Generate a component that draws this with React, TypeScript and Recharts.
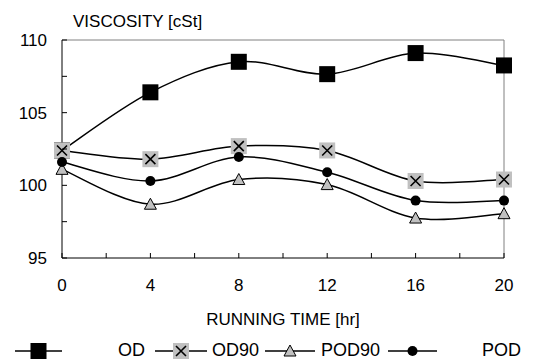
import { LineChart, Line, XAxis, YAxis, ReferenceLine, Label } from "recharts";

const hours = [0, 4, 8, 12, 16, 20];
const od = [102.4, 106.4, 108.5, 107.65, 109.1, 108.25];
const od90 = [102.4, 101.8, 102.7, 102.4, 100.3, 100.4];
const pod90 = [101.1, 98.7, 100.4, 100.05, 97.75, 98.05];
const pod = [101.6, 100.3, 101.95, 100.9, 98.95, 98.95];

const yTicks = [95, 97.5, 100, 102.5, 105, 107.5, 110];
const xTicks = [0, 2, 4, 6, 8, 10, 12, 14, 16, 18, 20];
const legendNames = ["OD", "OD90", "POD90", "POD"];

const FONT = "'Liberation Sans', Arial, sans-serif";

const data = hours.map((h, i) => ({
  h,
  od: od[i],
  od90: od90[i],
  pod90: pod90[i],
  pod: pod[i],
}));

// Excel-like smoothed line (cardinal spline, tension 1/6)
function smoothCurve(context: any) {
  let pts: number[][] = [];
  return {
    areaStart() {},
    areaEnd() {},
    lineStart() {
      pts = [];
    },
    point(x: number, y: number) {
      pts.push([+x, +y]);
    },
    lineEnd() {
      if (!pts.length) return;
      context.moveTo(pts[0][0], pts[0][1]);
      for (let i = 0; i < pts.length - 1; i++) {
        const p0 = pts[i - 1] || pts[i];
        const p1 = pts[i];
        const p2 = pts[i + 1];
        const p3 = pts[i + 2] || p2;
        context.bezierCurveTo(
          p1[0] + (p2[0] - p0[0]) / 6,
          p1[1] + (p2[1] - p0[1]) / 6,
          p2[0] - (p3[0] - p1[0]) / 6,
          p2[1] - (p3[1] - p1[1]) / 6,
          p2[0],
          p2[1]
        );
      }
    },
  };
}

const Square = ({ cx, cy }: any) => (
  <rect x={cx - 8} y={cy - 8} width={16} height={16} fill="#000" />
);
const CrossBox = ({ cx, cy }: any) => (
  <g>
    <rect x={cx - 8} y={cy - 8} width={16} height={16} fill="#c0c0c0" />
    <path
      d={`M${cx - 5},${cy - 5}L${cx + 5},${cy + 5}M${cx + 5},${cy - 5}L${cx - 5},${cy + 5}`}
      stroke="#000"
      strokeWidth={1.6}
    />
  </g>
);
const Triangle = ({ cx, cy }: any) => (
  <path
    d={`M${cx},${cy - 6}L${cx + 6},${cy + 5}L${cx - 6},${cy + 5}Z`}
    fill="#c0c0c0"
    stroke="#000"
    strokeWidth={1}
  />
);
const Dot = ({ cx, cy }: any) => <circle cx={cx} cy={cy} r={5} fill="#000" />;

const markers = [Square, CrossBox, Triangle, Dot];

const YTick = ({ x, y, payload }: any) => {
  const v = payload.value;
  return (
    <g>
      <line x1={x} y1={y} x2={x + 5} y2={y} stroke="#000" />
      {v % 5 === 0 && (
        <text x={x - 15} y={y} dy="0.35em" textAnchor="end" fontSize={17} fontFamily={FONT} fill="#000">
          {v}
        </text>
      )}
    </g>
  );
};

const XTick = ({ x, y, payload }: any) => {
  const v = payload.value;
  return (
    <g>
      <line x1={x} y1={y} x2={x} y2={y - 5} stroke="#000" />
      {v % 4 === 0 && (
        <text x={x} y={y + 27} dy="0.35em" textAnchor="middle" fontSize={17} fontFamily={FONT} fill="#000">
          {v}
        </text>
      )}
    </g>
  );
};

// legend layout: [line start, line end, text x]
const legendSlots = [
  [15, 62, 118],
  [155, 207, 212],
  [265, 315, 321],
  [388, 437, 482],
];

export default function App() {
  return (
    <div style={{ position: "absolute", left: 0, top: 0, width: 534, height: 361, background: "#fff" }}>
      <LineChart
        width={534}
        height={361}
        data={data}
        margin={{ top: 40, right: 30, left: 0, bottom: 0 }}
      >
        <XAxis
          dataKey="h"
          type="number"
          domain={[0, 20]}
          ticks={xTicks}
          interval={0}
          height={103}
          tickSize={0}
          tickMargin={0}
          tickLine={false}
          tick={<XTick />}
          axisLine={{ stroke: "#000" }}
        >
          <Label
            value="RUNNING TIME [hr]"
            position="insideTop"
            offset={55}
            style={{ fontSize: 17, fontFamily: FONT, fill: "#000" }}
          />
        </XAxis>
        <YAxis
          type="number"
          domain={[95, 110]}
          ticks={yTicks}
          interval={0}
          width={62}
          tickSize={0}
          tickMargin={0}
          tickLine={false}
          tick={<YTick />}
          axisLine={{ stroke: "#000" }}
        />
        <ReferenceLine y={110} stroke="#808080" />
        <ReferenceLine x={20} stroke="#808080" />
        <Line dataKey="od" type={smoothCurve as any} stroke="#000" strokeWidth={1.5} dot={<Square />} isAnimationActive={false} />
        <Line dataKey="od90" type={smoothCurve as any} stroke="#000" strokeWidth={1.5} dot={<CrossBox />} isAnimationActive={false} />
        <Line dataKey="pod90" type={smoothCurve as any} stroke="#000" strokeWidth={1.5} dot={<Triangle />} isAnimationActive={false} />
        <Line dataKey="pod" type={smoothCurve as any} stroke="#000" strokeWidth={1.5} dot={<Dot />} isAnimationActive={false} />
      </LineChart>
      <svg
        width={534}
        height={361}
        style={{ position: "absolute", left: 0, top: 0, pointerEvents: "none" }}
      >
        <text x={73} y={21} dy="0.35em" fontSize={17} fontFamily={FONT} fill="#000">
          VISCOSITY [cSt]
        </text>
        {legendNames.map((name, i) => {
          const [x1, x2, tx] = legendSlots[i];
          const M = markers[i];
          return (
            <g key={name}>
              <line x1={x1} y1={351} x2={x2} y2={351} stroke="#000" strokeWidth={1.5} />
              <M cx={(x1 + x2) / 2} cy={351} />
              <text x={tx} y={350} dy="0.35em" fontSize={18} fontFamily={FONT} fill="#000">
                {name}
              </text>
            </g>
          );
        })}
      </svg>
    </div>
  );
}
